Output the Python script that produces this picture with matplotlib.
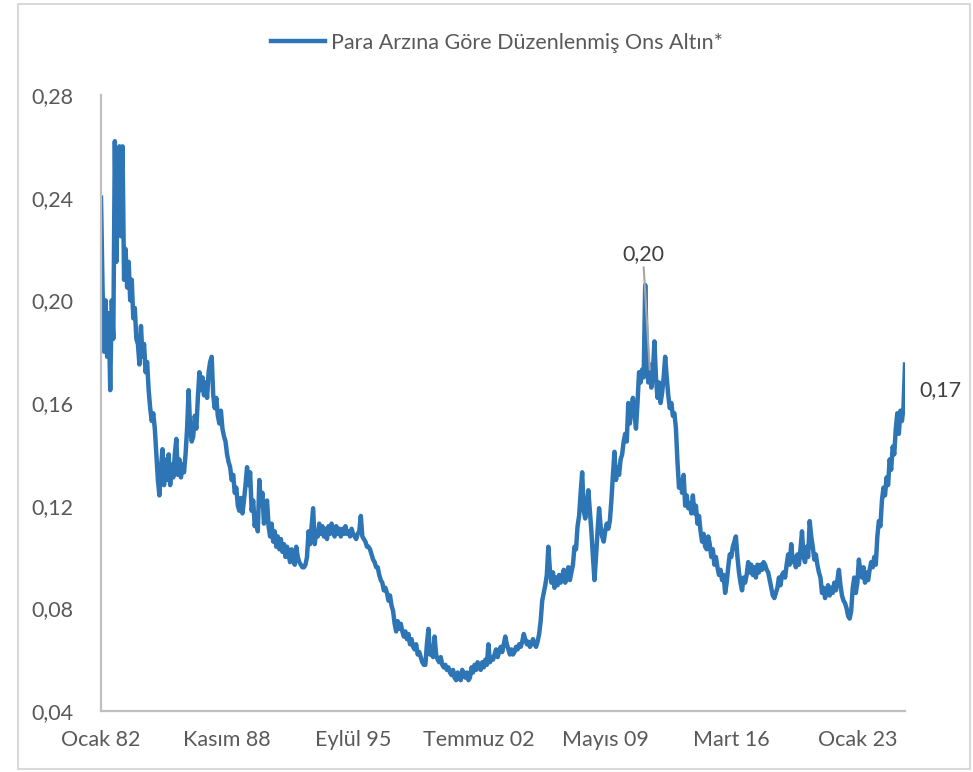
import numpy as np
import matplotlib
matplotlib.use("Agg")
import matplotlib.pyplot as plt
from matplotlib.patches import Rectangle

plt.rcParams['font.family'] = ['Lato', 'DejaVu Sans']

# monthly values, Jan 1982 onward
vals_1982_1988 = [
    0.240, 0.205, 0.180, 0.200, 0.178, 0.195, 0.165, 0.200, 0.185, 0.262, 0.215, 0.240,
    0.260, 0.225, 0.260, 0.208, 0.220, 0.205, 0.215, 0.200, 0.208, 0.193, 0.197, 0.185,
    0.183, 0.175, 0.190, 0.178, 0.183, 0.172, 0.176, 0.165, 0.158, 0.153, 0.156, 0.150,
    0.140, 0.130, 0.124, 0.135, 0.142, 0.128, 0.138, 0.130, 0.140, 0.128, 0.136, 0.131,
    0.140, 0.146, 0.132, 0.138, 0.131, 0.136, 0.133, 0.140, 0.150, 0.165, 0.150, 0.145,
    0.147, 0.155, 0.150, 0.162, 0.172, 0.165, 0.170, 0.163, 0.168, 0.162, 0.172, 0.176,
    0.178, 0.163, 0.158, 0.162, 0.155, 0.152, 0.157, 0.150, 0.147, 0.145, 0.140, 0.137,
]
vals_1989_1995 = [
    0.135, 0.130, 0.132, 0.125, 0.127, 0.120, 0.118, 0.123, 0.117, 0.122, 0.128, 0.135,
    0.128, 0.133, 0.118, 0.122, 0.112, 0.117, 0.110, 0.130, 0.120, 0.125, 0.113, 0.118,
    0.122, 0.112, 0.108, 0.113, 0.106, 0.110, 0.104, 0.108, 0.103, 0.107, 0.102, 0.105,
    0.100, 0.104, 0.101, 0.098, 0.103, 0.099, 0.097, 0.104, 0.100, 0.098, 0.097, 0.096,
    0.096, 0.097, 0.100, 0.110, 0.105, 0.112, 0.119, 0.105, 0.110, 0.108, 0.113, 0.109,
    0.112, 0.108, 0.111, 0.107, 0.112, 0.109, 0.113, 0.110, 0.108, 0.112, 0.109, 0.111,
    0.108, 0.111, 0.109, 0.112, 0.109, 0.110, 0.108, 0.111, 0.109, 0.108, 0.107, 0.109,
]
vals_1996_2002 = [
    0.110, 0.116, 0.108, 0.107, 0.106, 0.104, 0.104, 0.103, 0.101, 0.099, 0.098, 0.096,
    0.096, 0.093, 0.091, 0.090, 0.087, 0.088, 0.086, 0.083, 0.085, 0.081, 0.079, 0.074,
    0.071, 0.075, 0.072, 0.074, 0.071, 0.069, 0.071, 0.068, 0.070, 0.066, 0.068, 0.065,
    0.064, 0.066, 0.062, 0.063, 0.061, 0.059, 0.058, 0.058, 0.066, 0.072, 0.062, 0.065,
    0.061, 0.069, 0.062, 0.060, 0.059, 0.061, 0.058, 0.057, 0.058, 0.056, 0.057, 0.055,
    0.054, 0.056, 0.053, 0.052, 0.055, 0.053, 0.052, 0.056, 0.054, 0.053, 0.055, 0.052,
    0.053, 0.057, 0.055, 0.058, 0.056, 0.059, 0.057, 0.056, 0.059, 0.057, 0.060, 0.058,
]
vals_2003_2009 = [
    0.066, 0.059, 0.061, 0.060, 0.062, 0.064, 0.061, 0.063, 0.065, 0.063, 0.066, 0.069,
    0.066, 0.064, 0.062, 0.064, 0.062, 0.063, 0.065, 0.064, 0.066, 0.065, 0.067, 0.070,
    0.068, 0.066, 0.067, 0.065, 0.066, 0.068, 0.066, 0.065, 0.067, 0.070, 0.075, 0.083,
    0.086, 0.089, 0.093, 0.104, 0.095, 0.090, 0.094, 0.088, 0.092, 0.089, 0.093, 0.090,
    0.092, 0.095, 0.090, 0.093, 0.096, 0.091, 0.094, 0.097, 0.104, 0.103, 0.112, 0.116,
    0.125, 0.133, 0.118, 0.115, 0.120, 0.126, 0.118, 0.110, 0.100, 0.091, 0.100, 0.110,
    0.119, 0.112, 0.108, 0.106, 0.110, 0.113, 0.111, 0.114, 0.122, 0.132, 0.141, 0.130,
]
vals_2010_2016 = [
    0.135, 0.132, 0.138, 0.140, 0.145, 0.148, 0.145, 0.160, 0.152, 0.158, 0.162, 0.156,
    0.150, 0.160, 0.172, 0.168, 0.173, 0.170, 0.206, 0.180, 0.168, 0.175, 0.166, 0.172,
    0.184, 0.170, 0.162, 0.168, 0.160, 0.164, 0.170, 0.178, 0.170, 0.163, 0.158, 0.160,
    0.155, 0.156, 0.150, 0.137, 0.127, 0.130, 0.125, 0.132, 0.120, 0.124, 0.119, 0.121,
    0.117, 0.124, 0.117, 0.120, 0.113, 0.116, 0.110, 0.106, 0.109, 0.104, 0.103, 0.108,
    0.105, 0.100, 0.103, 0.097, 0.100, 0.096, 0.093, 0.095, 0.091, 0.093, 0.086, 0.090,
    0.096, 0.101, 0.100, 0.104, 0.106, 0.108, 0.100, 0.094, 0.090, 0.087, 0.092, 0.090,
]
vals_2017_2025 = [
    0.093, 0.098, 0.094, 0.097, 0.093, 0.096, 0.092, 0.097, 0.094, 0.097, 0.095, 0.098,
    0.097, 0.095, 0.094, 0.091, 0.088, 0.085, 0.084, 0.086, 0.088, 0.092, 0.089, 0.093,
    0.094, 0.092, 0.097, 0.101, 0.097, 0.105, 0.098, 0.100, 0.096, 0.101, 0.097, 0.103,
    0.110, 0.100, 0.098, 0.104, 0.100, 0.114, 0.108, 0.104, 0.099, 0.101, 0.097, 0.094,
    0.092, 0.086, 0.088, 0.084, 0.087, 0.089, 0.085, 0.088, 0.086, 0.090, 0.087, 0.091,
    0.095, 0.089, 0.085, 0.083, 0.082, 0.080, 0.077, 0.076, 0.079, 0.088, 0.092, 0.086,
    0.090, 0.099, 0.094, 0.092, 0.096, 0.090, 0.094, 0.091, 0.095, 0.098, 0.096, 0.100,
    0.097, 0.108, 0.114, 0.112, 0.122, 0.127, 0.124, 0.131, 0.128, 0.138, 0.134, 0.143,
    0.140, 0.150, 0.156, 0.148, 0.157, 0.153, 0.158, 0.175,
]

tick_labels = ['Ocak 82', 'Kasım 88', 'Eylül 95', 'Temmuz 02', 'Mayıs 09', 'Mart 16', 'Ocak 23']
tick_step = 82  # months between labels
series_name = 'Para Arzına Göre Düzenlenmiş Ons Altın*'

values = np.array(vals_1982_1988 + vals_1989_1995 + vals_1996_2002
                  + vals_2003_2009 + vals_2010_2016 + vals_2017_2025)
months = np.arange(len(values))

blue = '#2E75B6'
gray_txt = '#595959'

fig = plt.figure(figsize=(9.73, 7.72), dpi=100)
ax = fig.add_axes([101 / 973, 1 - 711 / 772, (905 - 101) / 973, (711 - 95) / 772])

ax.plot(months, values, color=blue, linewidth=3.2, label=series_name)

ax.set_xlim(0, months[-1])
ax.set_ylim(0.04, 0.28)
ax.set_yticks(np.arange(0.04, 0.281, 0.04))
ax.set_yticklabels([f'{v:.2f}'.replace('.', ',') for v in np.arange(0.04, 0.281, 0.04)])
ax.set_xticks(np.arange(len(tick_labels)) * tick_step)
ax.set_xticklabels(tick_labels)
ax.tick_params(length=0, labelsize=15.5, labelcolor=gray_txt)
ax.tick_params(axis='y', pad=20)
ax.tick_params(axis='x', pad=14)

for s in ['top', 'right']:
    ax.spines[s].set_visible(False)
for s in ['left', 'bottom']:
    ax.spines[s].set_color('#BFBFBF')
    ax.spines[s].set_linewidth(1.6)

# peak and last value labels
peak_i = int(np.argmax(values[300:])) + 300
ax.annotate('0,20', xy=(peak_i + 3, 0.173), xytext=(peak_i - 1.5, 0.214),
            ha='center', va='bottom', fontsize=15.5, color='#404040',
            arrowprops=dict(arrowstyle='-', color='#A6A6A6', lw=1.5, shrinkA=0, shrinkB=0))
ax.text(months[-1] + 23, values[-1] - 0.01, '0,17', ha='center', va='center',
        fontsize=15.5, color='#404040', clip_on=False)

leg = ax.legend(loc='center', bbox_to_anchor=(497 / 973, 1 - 43 / 772),
                bbox_transform=fig.transFigure, frameon=False, fontsize=15.5,
                handlelength=2.5, handletextpad=0.25)
for t in leg.get_texts():
    t.set_color(gray_txt)

fig.patches.append(Rectangle((18 / 973, 1 - 769 / 772), (970 - 18) / 973, (769 - 4) / 772,
                             transform=fig.transFigure, fill=False,
                             edgecolor='#D9D9D9', linewidth=1.5))

fig.savefig('out.png', dpi=100)
